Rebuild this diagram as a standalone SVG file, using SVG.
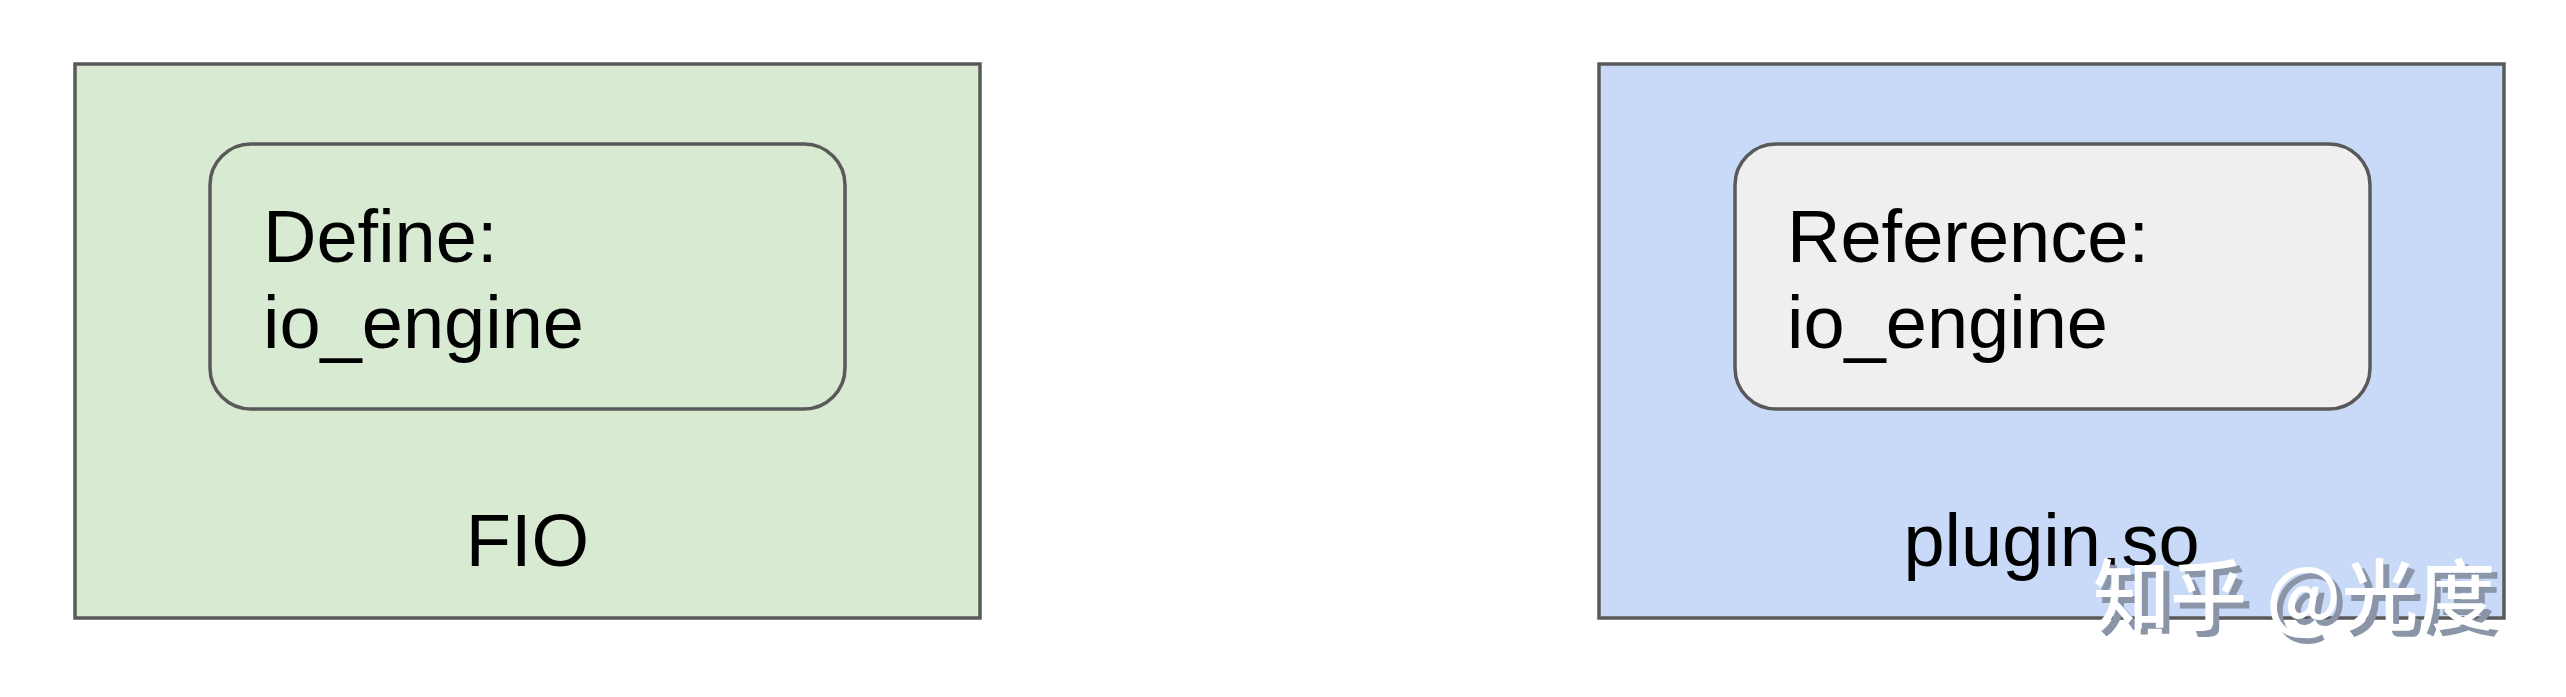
<svg xmlns="http://www.w3.org/2000/svg" width="2566" height="697" viewBox="0 0 2566 697">
<style>
.outer{stroke:#595959;stroke-width:3.5}
.inner{stroke:#595959;stroke-width:3.5}
.t{font-family:"Liberation Sans",Arial,sans-serif;font-size:74px;fill:#000}
.wm{font-family:"Noto Sans CJK SC","Liberation Sans",sans-serif;font-size:77px;font-weight:500;fill:#ffffff}
.wms{font-family:"Noto Sans CJK SC","Liberation Sans",sans-serif;font-size:77px;font-weight:500;fill:#8a95a8}
</style>
<rect width="2566" height="697" fill="#ffffff"/>
<g id="fio">
<rect class="outer" x="75" y="64" width="905" height="554" fill="#d9ead3"/>
<text class="t" x="527.5" y="566" text-anchor="middle">FIO</text>
</g>
<g id="define">
<rect class="inner" x="210" y="144" width="635" height="265" rx="41" ry="41" fill="#d9ead3"/>
<text class="t" x="263" y="262">Define:</text>
<text class="t" x="263" y="348">io_engine</text>
</g>
<g id="plugin">
<rect class="outer" x="1599" y="64" width="905" height="554" fill="#c9daf8"/>
<text class="t" x="2051.5" y="566" text-anchor="middle">plugin.so</text>
</g>
<g id="reference">
<rect class="inner" x="1735" y="144" width="635" height="265" rx="41" ry="41" fill="#efefef"/>
<text class="t" x="1787" y="262">Reference:</text>
<text class="t" x="1787" y="348">io_engine</text>
</g>
<g id="connectors"></g>
<g id="watermark">
<text class="wms" x="2099" y="630" word-spacing="2">知乎 @光度</text>
<text class="wm" x="2093" y="624" word-spacing="2">知乎 @光度</text>
</g>
</svg>
